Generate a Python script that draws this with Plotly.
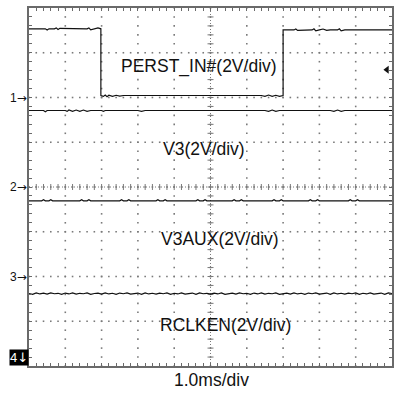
import plotly.graph_objects as go

# ---------------- data (time in ms, voltage in V) ----------------
PERST_T = [0.0, 0.45, 0.5, 0.55, 0.7, 0.75, 0.8, 0.85, 1.6, 1.65, 1.7, 1.8, 1.9, 1.98,
           1.98, 2.05, 2.1, 2.15, 2.2, 2.3, 2.4, 2.5, 2.6, 6.4, 6.5, 6.6, 6.7, 6.8, 6.9, 7.0,
           7.0, 7.3, 7.35, 7.4, 7.8, 7.85, 7.9, 8.0, 8.1, 8.2, 8.3, 8.5, 8.55, 8.6, 8.7, 10.0]
PERST_V = [3.07, 3.07, 3.02, 3.07, 3.07, 3.11, 3.04, 3.09, 3.07, 3.11, 3.02, 3.07, 3.11, 3.07,
           0.09, 0.05, 0.11, 0.04, 0.10, 0.05, 0.10, 0.06, 0.09, 0.09, 0.05, 0.11, 0.05, 0.10, 0.05, 0.09,
           3.02, 3.02, 3.06, 3.00, 3.02, 3.07, 2.98, 3.02, 3.06, 3.00, 3.02, 3.02, 3.07, 2.98, 3.02, 3.02]

V3_T = [0.0, 0.4, 0.45, 0.5, 1.0, 1.05, 1.1, 1.2, 1.3, 1.4, 1.5, 1.6, 1.7, 2.0, 2.05, 2.1,
        3.0, 3.1, 3.2, 6.5, 6.6, 6.7, 6.8, 6.9, 8.3, 8.4, 8.5, 8.6, 8.7, 10.0]
V3_V = [3.42, 3.42, 3.36, 3.42, 3.42, 3.38, 3.44, 3.38, 3.44, 3.38, 3.44, 3.38, 3.42, 3.42, 3.38, 3.42,
        3.42, 3.38, 3.42, 3.42, 3.38, 3.44, 3.38, 3.42, 3.42, 3.38, 3.44, 3.38, 3.42, 3.42]

V3AUX_T = [0.0, 0.35, 0.4, 0.45, 0.55, 0.6, 0.65, 1.4, 1.45, 1.5, 1.6, 1.65, 1.7,
           2.5, 2.55, 2.6, 2.7, 2.75, 2.8, 3.5, 3.55, 3.6, 3.7, 3.75, 3.8,
           4.6, 4.65, 4.7, 4.8, 4.85, 4.9, 5.6, 5.65, 5.7, 5.8, 5.85, 5.9,
           6.7, 6.75, 6.8, 6.9, 6.95, 7.0, 7.7, 7.75, 7.8, 7.9, 7.95, 8.0,
           8.8, 8.85, 8.9, 9.0, 9.05, 9.1, 10.0]
V3AUX_V = [3.38, 3.38, 3.43, 3.38, 3.38, 3.43, 3.38, 3.38, 3.43, 3.38, 3.38, 3.43, 3.38,
           3.38, 3.43, 3.38, 3.38, 3.43, 3.38, 3.38, 3.43, 3.38, 3.38, 3.43, 3.38,
           3.38, 3.43, 3.38, 3.38, 3.43, 3.38, 3.38, 3.43, 3.38, 3.38, 3.43, 3.38,
           3.38, 3.43, 3.38, 3.38, 3.43, 3.38, 3.38, 3.43, 3.38, 3.38, 3.43, 3.38,
           3.38, 3.43, 3.38, 3.38, 3.43, 3.38, 3.38]

RCLKEN_V = [3.24, 3.20, 3.27, 3.22, 3.26, 3.21, 3.27, 3.23, 3.25, 3.20, 3.26, 3.22, 3.27, 3.21, 3.25, 3.23, 3.27, 3.20, 3.24, 3.26,
            3.21, 3.27, 3.22, 3.25, 3.20, 3.26, 3.23, 3.27, 3.21, 3.24, 3.26, 3.20, 3.27, 3.22, 3.25, 3.21, 3.26, 3.23, 3.27, 3.20,
            3.25, 3.22, 3.27, 3.21, 3.24, 3.26, 3.20, 3.27, 3.23, 3.25, 3.21, 3.26, 3.22, 3.27, 3.20, 3.24, 3.26, 3.21, 3.27, 3.23,
            3.25, 3.20, 3.26, 3.22, 3.27, 3.21, 3.25, 3.23, 3.27, 3.20, 3.24, 3.26, 3.21, 3.27, 3.22, 3.25, 3.20, 3.26, 3.23, 3.27,
            3.21, 3.24, 3.26, 3.20, 3.27, 3.22, 3.25, 3.21, 3.26, 3.23, 3.27, 3.20, 3.25, 3.22, 3.27, 3.21, 3.24, 3.26, 3.20, 3.27, 3.24]
RCLKEN_T = [i * 0.1 for i in range(len(RCLKEN_V))]

CH_LABELS = ["PERST_IN#(2V/div)", "V3(2V/div)", "V3AUX(2V/div)", "RCLKEN(2V/div)"]
CH_NUMBERS = ["1", "2", "3", "4"]
CH_OFFSET_DIV = [6, 4, 2, 0]          # ground reference of each channel, in divisions
VOLTS_PER_DIV = 2.0
TIME_LABEL = "1.0ms/div"
TRIGGER_LEVEL_V = 1.24
TIME_RANGE = [0, 10]
DIV_RANGE = [0, 8]

# ---------------- figure ----------------
FONT = "Liberation Sans, Arial, sans-serif"
fig = go.Figure()

grid_col = "#7a7a7a"
frame_col = "#6a6a6a"

# dotted graticule (dots every 1/5 division along each grid line)
gx, gy = [], []
for yl in range(1, 8):
    for k in range(0, 51):
        gx.append(k * 0.2)
        gy.append(yl)
for xl in range(1, 10):
    for k in range(0, 41):
        gx.append(xl)
        gy.append(k * 0.2)
fig.add_trace(go.Scatter(x=gx, y=gy, mode="markers",
                         marker=dict(symbol="square", size=1.6, color=grid_col, line=dict(width=0)),
                         hoverinfo="skip", showlegend=False))

series = [(PERST_T, PERST_V), (V3_T, V3_V), (V3AUX_T, V3AUX_V), (RCLKEN_T, RCLKEN_V)]
for (t, v), off in zip(series, CH_OFFSET_DIV):
    fig.add_trace(go.Scatter(x=t, y=[off + val / VOLTS_PER_DIV for val in v],
                             mode="lines", line=dict(color="#111111", width=1.2),
                             hoverinfo="skip", showlegend=False))

# trigger level marker on the right
fig.add_trace(go.Scatter(x=[9.86], y=[CH_OFFSET_DIV[0] + TRIGGER_LEVEL_V / VOLTS_PER_DIV],
                         mode="markers", marker=dict(symbol="triangle-left", size=7, color="#111"),
                         hoverinfo="skip", showlegend=False))

# center crosshair
shapes = [
    dict(type="line", xref="x", yref="y", x0=5, x1=5, y0=0, y1=8,
         line=dict(color=grid_col, width=1, dash="1px,2px"), layer="below"),
    dict(type="line", xref="x", yref="y", x0=0, x1=10, y0=4, y1=4,
         line=dict(color=grid_col, width=1, dash="1px,2px"), layer="below"),
]
for i in range(1, 50):
    shapes.append(dict(type="line", xref="x", yref="y", x0=i * 0.2, x1=i * 0.2,
                       ysizemode="pixel", yanchor=4, y0=-3, y1=3,
                       line=dict(color=grid_col, width=1), layer="below"))
for i in range(1, 40):
    shapes.append(dict(type="line", xref="x", yref="y", y0=i * 0.2, y1=i * 0.2,
                       xsizemode="pixel", xanchor=5, x0=-3, x1=3,
                       line=dict(color=grid_col, width=1), layer="below"))

annotations = []
label_pos = [(4.68, 6.69), (4.81, 4.84), (5.26, 2.84), (5.4, 0.91)]
for lab, (lx, ly) in zip(CH_LABELS, label_pos):
    annotations.append(dict(text=lab, x=lx, y=ly, xref="x", yref="y", showarrow=False,
                            xanchor="center", yanchor="middle",
                            font=dict(family=FONT, size=17.5, color="#111")))

ARROW_R = "<span style='font-family:DejaVu Sans'>→</span>"
ARROW_D = "<span style='font-family:DejaVu Sans'>↓</span>"
for num, off in zip(CH_NUMBERS[:3], CH_OFFSET_DIV[:3]):
    annotations.append(dict(text=num + ARROW_R, x=0, y=off, xref="paper", yref="y", showarrow=False,
                            xanchor="right", yanchor="middle", xshift=0,
                            font=dict(family=FONT, size=12, color="#111")))
annotations.append(dict(text=CH_NUMBERS[3] + ARROW_D, x=0, y=0, xref="paper", yref="y", showarrow=False,
                        xanchor="right", yanchor="bottom", xshift=0, bgcolor="#000", borderpad=0,
                        font=dict(family=FONT, size=13, color="#fff")))

annotations.append(dict(text=TIME_LABEL, x=0.5, y=-0.039, xref="paper", yref="paper", showarrow=False,
                        xanchor="center", yanchor="middle", xshift=1,
                        font=dict(family=FONT, size=17.5, color="#111")))

axis_common = dict(showline=True, mirror="allticks", linecolor=frame_col, linewidth=2,
                   showticklabels=False, zeroline=False, showgrid=False,
                   ticks="inside", ticklen=3, tickcolor=frame_col, tick0=0, dtick=1)

fig.update_layout(
    width=400, height=397,
    margin=dict(l=29, r=8, t=6, b=31),
    paper_bgcolor="white", plot_bgcolor="white",
    xaxis=dict(range=TIME_RANGE,
               minor=dict(dtick=0.2, ticks="inside", ticklen=3, tickcolor=frame_col, showgrid=False),
               **axis_common),
    yaxis=dict(range=DIV_RANGE,
               minor=dict(dtick=0.2, ticks="inside", ticklen=3, tickcolor=frame_col, showgrid=False),
               **axis_common),
    shapes=shapes, annotations=annotations,
)

fig.write_html("out.html")
